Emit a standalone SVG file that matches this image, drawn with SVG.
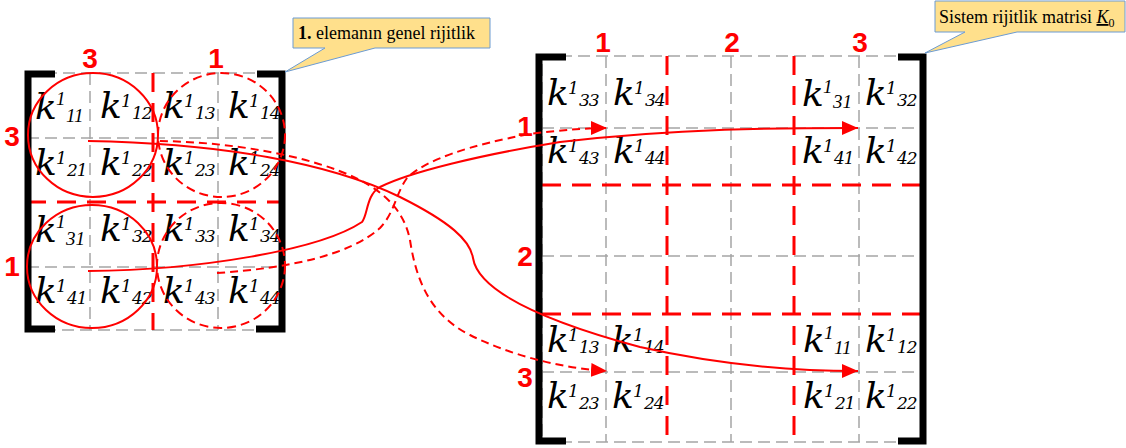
<svg xmlns="http://www.w3.org/2000/svg" width="1126" height="448" viewBox="0 0 1126 448">
<style>
.g{stroke:#A5A5A5;stroke-width:1.5;stroke-dasharray:12 6;fill:none}
.r{stroke:#FF0000;stroke-width:3;stroke-dasharray:19 11;fill:none}
.br{stroke:#000;stroke-width:7;fill:none;stroke-linejoin:miter;stroke-linecap:butt}
.k{font-family:"DejaVu Serif",serif;font-style:italic;font-size:36px;fill:#000}
.s{font-size:17px}
.sb{font-size:17px;letter-spacing:-1px}
.t{font-family:"Liberation Serif",serif;font-style:italic;font-size:19px}
.lbl{font-family:"Liberation Sans",Arial,sans-serif;font-weight:bold;font-size:28px;fill:#FF0000;text-anchor:middle}
.cs{fill:none;stroke:#FF0000;stroke-width:2}
.cd{fill:none;stroke:#FF0000;stroke-width:2;stroke-dasharray:9 5}
.con{fill:none;stroke:#FF0000;stroke-width:2;marker-end:url(#ah)}
.dash{stroke-dasharray:8 5}
.call{fill:#FFE08C;stroke:#6C9BD2;stroke-width:1}
.ct{font-family:"Liberation Serif","Times New Roman",serif;font-size:18px;fill:#000}
</style>
<defs>
<marker id="ah" markerUnits="userSpaceOnUse" markerWidth="18" markerHeight="14" refX="16" refY="7" orient="auto">
<path d="M0,0 L16,7 L0,14 z" fill="#FF0000"/>
</marker>
</defs>

<g id="left-matrix">
<rect x="27" y="73" width="255" height="257" class="g"/>
<line x1="90" y1="73" x2="90" y2="330" class="g"/>
<line x1="218" y1="73" x2="218" y2="330" class="g"/>
<line x1="27" y1="138" x2="282" y2="138" class="g"/>
<line x1="27" y1="267" x2="282" y2="267" class="g"/>
<line x1="153" y1="73" x2="153" y2="330" class="r"/>
<line x1="27" y1="202" x2="282" y2="202" class="r"/>
<path d="M55,74 H28 V329 H55" class="br"/>
<path d="M257,74 H282 V329 H256" class="br"/>
<text class="k" x="35" y="119">k<tspan class="t" x="56" y="105">1</tspan><tspan class="t" x="66" y="122">11</tspan></text>
<text class="k" x="100" y="118">k<tspan class="s" x="121" y="107">1</tspan><tspan class="sb" x="132" y="119">12</tspan></text>
<text class="k" x="163" y="118">k<tspan class="s" x="184" y="107">1</tspan><tspan class="sb" x="195" y="119">13</tspan></text>
<text class="k" x="228" y="118">k<tspan class="s" x="249" y="107">1</tspan><tspan class="sb" x="260" y="119">14</tspan></text>
<text class="k" x="35" y="175">k<tspan class="s" x="56" y="164">1</tspan><tspan class="sb" x="67" y="176">21</tspan></text>
<text class="k" x="100" y="175">k<tspan class="s" x="121" y="164">1</tspan><tspan class="sb" x="132" y="176">22</tspan></text>
<text class="k" x="163" y="175">k<tspan class="s" x="184" y="164">1</tspan><tspan class="sb" x="195" y="176">23</tspan></text>
<text class="k" x="228" y="175">k<tspan class="s" x="249" y="164">1</tspan><tspan class="sb" x="260" y="176">24</tspan></text>
<text class="k" x="35" y="242">k<tspan class="t" x="56" y="228">1</tspan><tspan class="t" x="66" y="245">31</tspan></text>
<text class="k" x="100" y="241">k<tspan class="s" x="121" y="230">1</tspan><tspan class="sb" x="132" y="242">32</tspan></text>
<text class="k" x="163" y="241">k<tspan class="s" x="184" y="230">1</tspan><tspan class="sb" x="195" y="242">33</tspan></text>
<text class="k" x="228" y="241">k<tspan class="s" x="249" y="230">1</tspan><tspan class="sb" x="260" y="242">34</tspan></text>
<text class="k" x="35" y="303">k<tspan class="s" x="56" y="292">1</tspan><tspan class="sb" x="67" y="304">41</tspan></text>
<text class="k" x="100" y="303">k<tspan class="s" x="121" y="292">1</tspan><tspan class="sb" x="132" y="304">42</tspan></text>
<text class="k" x="163" y="303">k<tspan class="s" x="184" y="292">1</tspan><tspan class="sb" x="195" y="304">43</tspan></text>
<text class="k" x="228" y="303">k<tspan class="s" x="249" y="292">1</tspan><tspan class="sb" x="260" y="304">44</tspan></text>
<ellipse cx="93" cy="135" rx="65" ry="62" class="cs"/>
<ellipse cx="92" cy="266.5" rx="65" ry="61.5" class="cs"/>
<ellipse cx="221.5" cy="135" rx="63.5" ry="62" class="cd"/>
<ellipse cx="221" cy="265.5" rx="64" ry="62.5" class="cd"/>
<text class="lbl" x="90" y="68">3</text>
<text class="lbl" x="216" y="68">1</text>
<text class="lbl" x="12" y="146">3</text>
<text class="lbl" x="12" y="276">1</text>
</g>

<g id="right-matrix">
<rect x="542" y="56" width="380" height="386" class="g"/>
<line x1="606" y1="56" x2="606" y2="442" class="g"/>
<line x1="731" y1="56" x2="731" y2="442" class="g"/>
<line x1="859" y1="56" x2="859" y2="442" class="g"/>
<line x1="542" y1="128" x2="922" y2="128" class="g"/>
<line x1="542" y1="256" x2="922" y2="256" class="g"/>
<line x1="542" y1="372" x2="922" y2="372" class="g"/>
<line x1="667" y1="56" x2="667" y2="442" class="r"/>
<line x1="794" y1="56" x2="794" y2="442" class="r"/>
<line x1="542" y1="185" x2="922" y2="185" class="r"/>
<line x1="542" y1="314" x2="922" y2="314" class="r"/>
<path d="M566,57 H539 V441 H566" class="br"/>
<path d="M898,57 H923 V441 H898" class="br"/>
<text class="k" x="547" y="105">k<tspan class="s" x="568" y="94">1</tspan><tspan class="sb" x="579" y="106">33</tspan></text>
<text class="k" x="613" y="105">k<tspan class="s" x="634" y="94">1</tspan><tspan class="sb" x="645" y="106">34</tspan></text>
<text class="k" x="802" y="106">k<tspan class="t" x="823" y="93">1</tspan><tspan class="t" x="833" y="108">31</tspan></text>
<text class="k" x="865" y="105">k<tspan class="s" x="886" y="94">1</tspan><tspan class="sb" x="897" y="106">32</tspan></text>
<text class="k" x="547" y="163">k<tspan class="s" x="568" y="152">1</tspan><tspan class="sb" x="579" y="164">43</tspan></text>
<text class="k" x="613" y="163">k<tspan class="s" x="634" y="152">1</tspan><tspan class="sb" x="645" y="164">44</tspan></text>
<text class="k" x="802" y="163">k<tspan class="s" x="823" y="152">1</tspan><tspan class="sb" x="834" y="164">41</tspan></text>
<text class="k" x="865" y="163">k<tspan class="s" x="886" y="152">1</tspan><tspan class="sb" x="897" y="164">42</tspan></text>
<text class="k" x="547" y="352">k<tspan class="s" x="568" y="341">1</tspan><tspan class="sb" x="579" y="353">13</tspan></text>
<text class="k" x="612" y="352">k<tspan class="s" x="633" y="341">1</tspan><tspan class="sb" x="644" y="353">14</tspan></text>
<text class="k" x="803" y="352">k<tspan class="t" x="824" y="339">1</tspan><tspan class="t" x="834" y="354">11</tspan></text>
<text class="k" x="865" y="352">k<tspan class="s" x="886" y="341">1</tspan><tspan class="sb" x="897" y="353">12</tspan></text>
<text class="k" x="547" y="408">k<tspan class="s" x="568" y="397">1</tspan><tspan class="sb" x="579" y="409">23</tspan></text>
<text class="k" x="612" y="408">k<tspan class="s" x="633" y="397">1</tspan><tspan class="sb" x="644" y="409">24</tspan></text>
<text class="k" x="803" y="408">k<tspan class="s" x="824" y="397">1</tspan><tspan class="sb" x="835" y="409">21</tspan></text>
<text class="k" x="865" y="408">k<tspan class="s" x="886" y="397">1</tspan><tspan class="sb" x="897" y="409">22</tspan></text>
<text class="lbl" x="603" y="52">1</text>
<text class="lbl" x="732" y="52">2</text>
<text class="lbl" x="860" y="52">3</text>
<text class="lbl" x="525" y="136">1</text>
<text class="lbl" x="525" y="266">2</text>
<text class="lbl" x="525" y="387">3</text>
</g>

<g id="connectors">
<path class="con" d="M88,141 C220,143 330,163 400,197 C450,222 470,240 473,258 C478,290 540,320 640,347 C720,365 790,371 858,371"/>
<path class="con" d="M88,271 C200,270 320,250 362,222 C368,215 366,195 380,187 C410,172 480,155 560,142 C680,128 780,128 858,128"/>
<path class="con dash" d="M160,141 C230,142 310,155 360,180 C390,196 405,215 410,240 C416,280 430,315 470,335 C510,355 560,368 607,371"/>
<path class="con dash" d="M217,273 C290,268 350,255 380,228 C395,212 395,195 407,178 C425,160 470,145 530,134 C560,130 590,128 607,128"/>
</g>

<g id="callout-element">
<path class="call" d="M293,18 H490 V48 H375 L285,72 L325,48 H293 Z"/>
<text class="ct" x="298" y="39"><tspan font-weight="bold">1.</tspan> elemanın genel rijitlik</text>
</g>

<g id="callout-system">
<path class="call" d="M935,1 H1125 V32 H1017 L925,53 L965,32 H935 Z"/>
<text class="ct" x="939" y="23">Sistem rijitlik matrisi <tspan font-style="italic" text-decoration="underline">K</tspan><tspan font-size="12" dy="4">0</tspan></text>
</g>
</svg>
